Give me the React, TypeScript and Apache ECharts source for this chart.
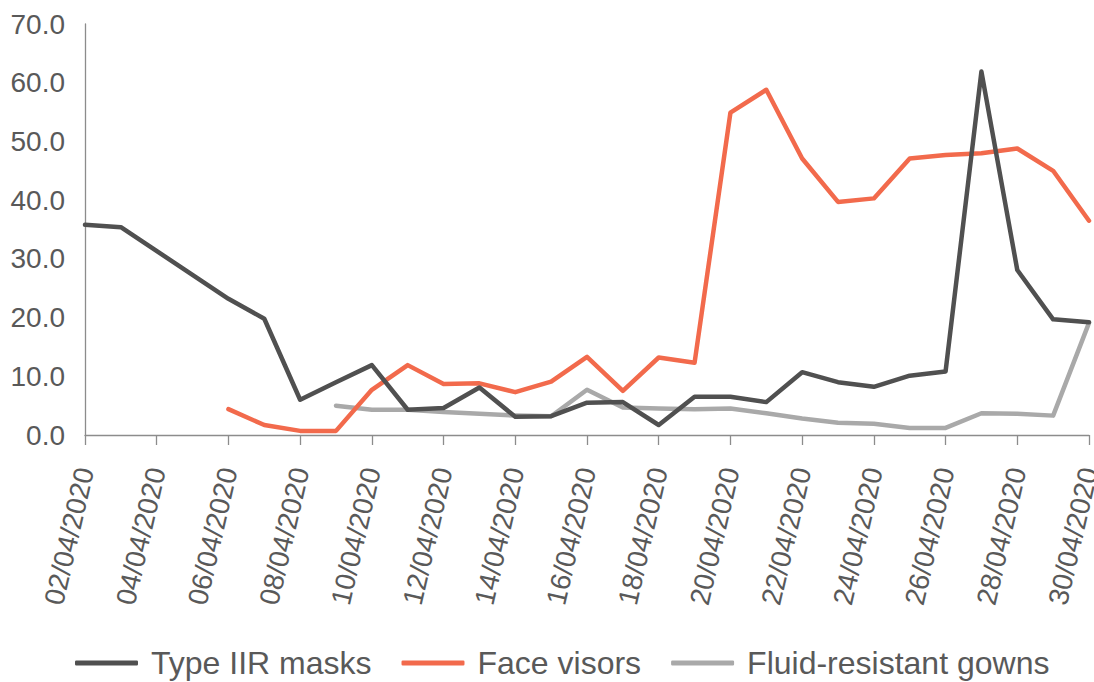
import React, { useEffect, useRef } from "react";
import * as echarts from "echarts";

const dates = [
  "02/04/2020", "03/04/2020", "04/04/2020", "05/04/2020", "06/04/2020", "07/04/2020", "08/04/2020",
  "09/04/2020", "10/04/2020", "11/04/2020", "12/04/2020", "13/04/2020", "14/04/2020", "15/04/2020",
  "16/04/2020", "17/04/2020", "18/04/2020", "19/04/2020", "20/04/2020", "21/04/2020", "22/04/2020",
  "23/04/2020", "24/04/2020", "25/04/2020", "26/04/2020", "27/04/2020", "28/04/2020", "29/04/2020",
  "30/04/2020",
];

const typeIIRMasks = [
  35.8, 35.4, null, null, 23.2, 19.8, 6.0, 9.0, 11.9, 4.3, 4.6, 8.1, 3.1, 3.2, 5.5,
  5.6, 1.7, 6.5, 6.5, 5.6, 10.7, 9.0, 8.2, 10.1, 10.8, 61.9, 28.1, 19.7, 19.2,
];

const faceVisors = [
  null, null, null, null, 4.4, 1.7, 0.7, 0.7, 7.7, 11.9, 8.7, 8.8, 7.3, 9.1, 13.3,
  7.5, 13.2, 12.3, 54.9, 58.8, 47.1, 39.7, 40.3, 47.1, 47.7, 48.0, 48.8, 45.0, 36.5,
];

const fluidResistantGowns = [
  null, null, null, null, null, null, null, 5.0, 4.3, 4.3, 3.9, 3.6, 3.3, 3.2, 7.7,
  4.7, 4.5, 4.4, 4.5, 3.7, 2.8, 2.1, 1.9, 1.2, 1.2, 3.7, 3.6, 3.3, 19.1,
];

const seriesNames = ["Type IIR masks", "Face visors", "Fluid-resistant gowns"];
const seriesColors = ["#505050", "#F26A4C", "#A9A9A9"];

const FONT = "'Liberation Sans', Arial, sans-serif";
const TEXT_COLOR = "#595959";

export default function App() {
  const ref = useRef<HTMLDivElement>(null);

  useEffect(() => {
    if (!ref.current) return;
    const chart = echarts.init(ref.current, undefined, { renderer: "svg" });
    const datasets = [typeIIRMasks, faceVisors, fluidResistantGowns];
    chart.setOption({
      animation: false,
      backgroundColor: "#ffffff",
      textStyle: { fontFamily: FONT },
      grid: {
        left: 85,
        right: 5,
        top: 24,
        height: 411,
        containLabel: false,
        outerBoundsMode: "none",
      },
      legend: {
        left: 75,
        top: 647,
        padding: 0,
        icon: "roundRect",
        itemWidth: 63,
        itemHeight: 5,
        itemGap: 30,
        textStyle: { fontSize: 32, color: TEXT_COLOR, fontFamily: FONT, padding: [0, 0, 0, 8] },
        data: seriesNames,
      },
      xAxis: {
        type: "category",
        data: dates,
        boundaryGap: false,
        axisLine: { lineStyle: { color: "#8C8C8C", width: 1.3 } },
        axisTick: { show: true, interval: 1, length: 10, lineStyle: { color: "#8C8C8C", width: 1.3 } },
        axisLabel: {
          interval: 1,
          rotate: 77,
          margin: 33,
          fontSize: 28,
          color: TEXT_COLOR,
          fontFamily: FONT,
        },
      },
      yAxis: {
        type: "value",
        min: 0,
        max: 70,
        interval: 10,
        splitLine: { show: false },
        axisLine: { show: true, lineStyle: { color: "#8C8C8C", width: 1.3 } },
        axisTick: { show: false },
        axisLabel: {
          margin: 20,
          fontSize: 28,
          color: TEXT_COLOR,
          fontFamily: FONT,
          formatter: (v: number) => v.toFixed(1),
        },
      },
      series: datasets.map((d, i) => ({
        name: seriesNames[i],
        type: "line",
        data: d,
        connectNulls: true,
        symbol: "none",
        color: seriesColors[i],
        lineStyle: { width: 4.5, color: seriesColors[i], cap: "round", join: "round" },
        z: i === 2 ? 1 : i === 1 ? 2 : 3,
      })),
    });
    return () => chart.dispose();
  }, []);

  return (
    <div
      ref={ref}
      style={{ position: "fixed", left: 0, top: 0, width: 1094, height: 682 }}
    />
  );
}
